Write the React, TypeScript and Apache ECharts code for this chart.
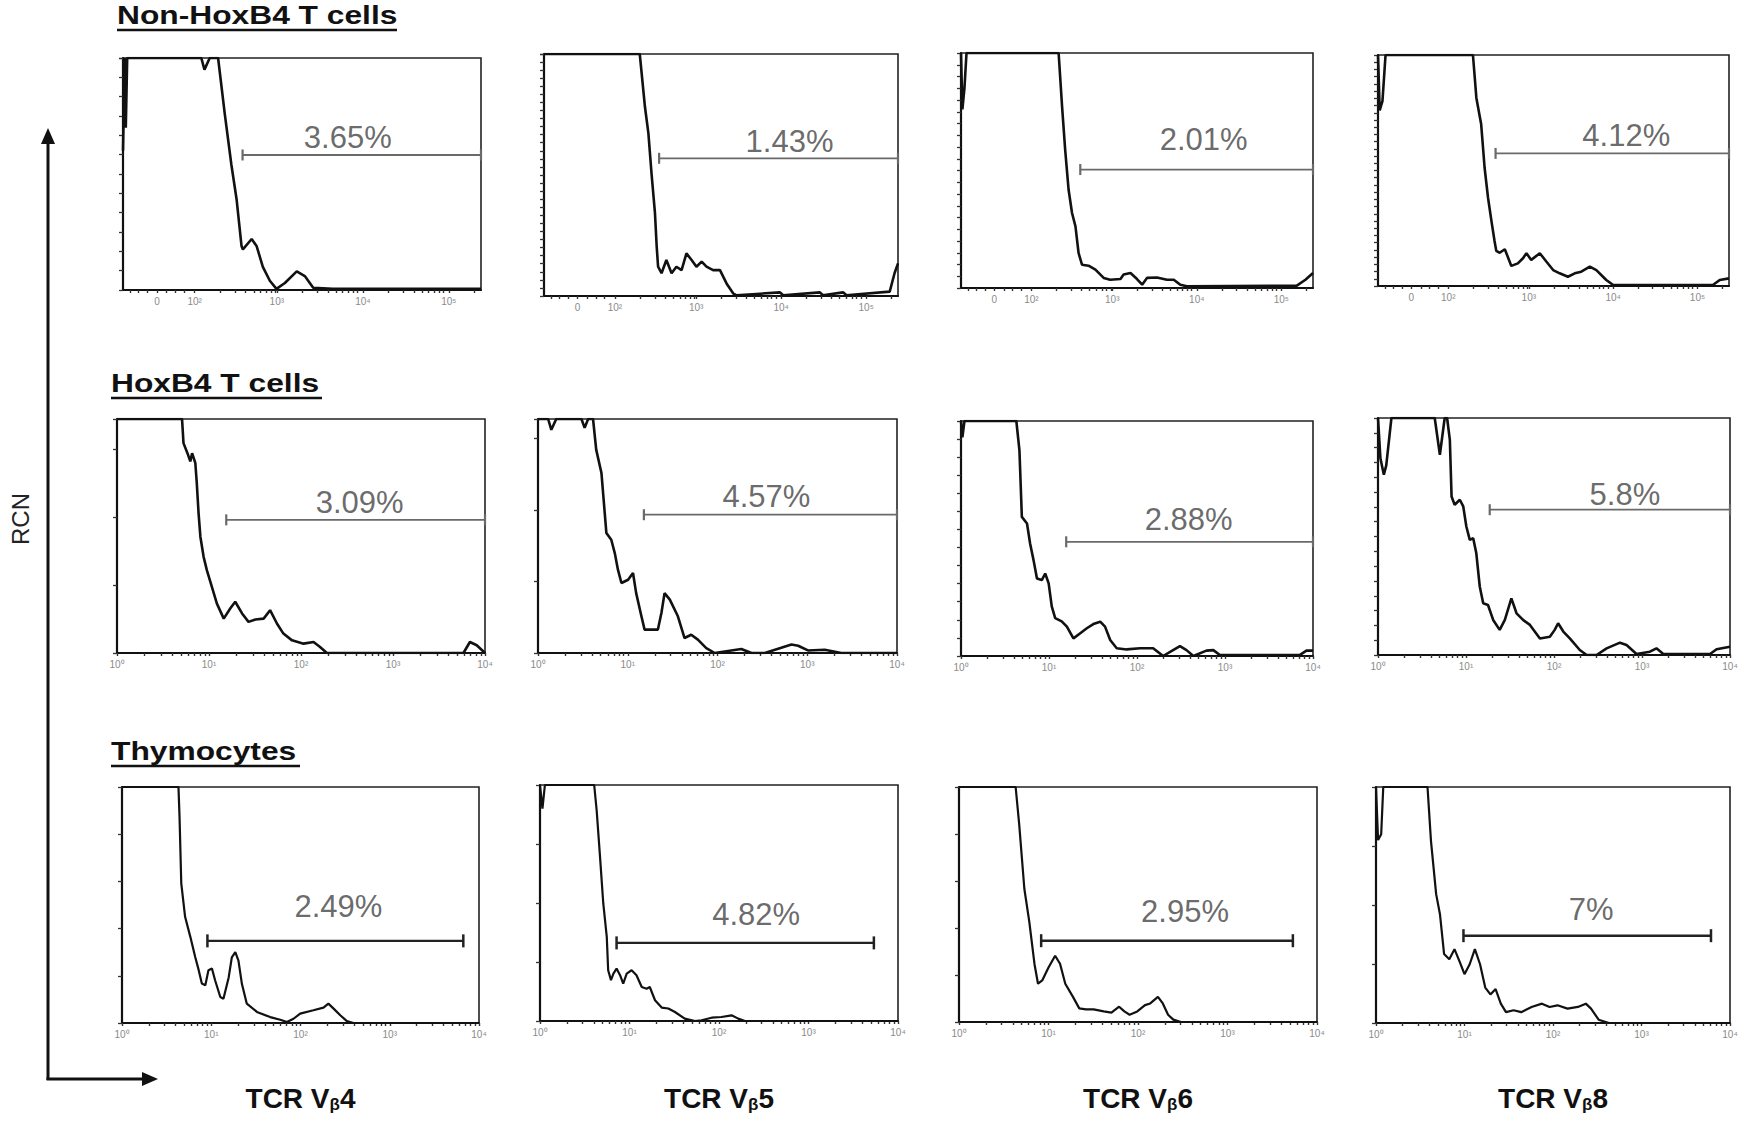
import React, { useEffect, useRef } from "react";
import * as echarts from "echarts";

// ---------------- DATA ----------------
const rowTitles = ["Non-HoxB4 T cells", "HoxB4 T cells", "Thymocytes"];
const vbetaFamilies = ["4", "5", "6", "8"];
const gatePercents = [
  ["3.65%", "1.43%", "2.01%", "4.12%"],
  ["3.09%", "4.57%", "2.88%", "5.8%"],
  ["2.49%", "4.82%", "2.95%", "7%"],
];

// x in display channels (0–1024), y in % of the histogram's full scale
const biexTickChannels = [97, 205, 440, 686, 932];
const biexTickLabels = ["0", "10²", "10³", "10⁴", "10⁵"];
const logTickChannels = [0, 256, 512, 768, 1024];
const logTickLabels = ["10⁰", "10¹", "10²", "10³", "10⁴"];

const nonHoxVb4 = [[0,60],[5,100],[8,70],[12,100],[224,100],[233,95],[248,100],[272,100],[291,76],[310,54],[325,39],[339,19],[343,17.5],[368,22],[382,19],[400,10],[420,4],[439,0.5],[463,3],[497,8],[520,6],[544,1],[600,0.5],[1024,0.5]];
const nonHoxVb5 = [[0,100],[277,100],[292,78.2],[302,67.2],[311,50.7],[321,34.2],[326,20.4],[330,12.1],[340,9.4],[354,14.9],[369,9.4],[383,12.1],[398,10.7],[412,17.6],[427,14.9],[441,12.1],[456,14.2],[470,12.1],[489,10.7],[509,10.7],[528,5.2],[547,1.1],[557,0.3],[682,1.5],[692,0.3],[798,1.5],[807,0.3],[865,1.5],[875,0.3],[1000,1.8],[1014,9.4],[1024,13.5]];
const nonHoxVb6 = [[0,100],[4,76],[10,85],[16,100],[284,100],[294,77.3],[303,58.9],[313,41.8],[323,31.9],[333,26.2],[342,14.9],[352,9.9],[371,9.5],[391,7.8],[415,4.3],[434,3.5],[464,3.8],[473,5.7],[493,6.4],[512,3.8],[527,1.4],[541,4.3],[570,4.5],[599,3.5],[619,3.5],[638,1.4],[657,0.7],[977,1.0],[1002,3.5],[1024,6.4]];
const nonHoxVb8 = [[0,100],[5,76],[13,80],[22,100],[277,100],[287,81.4],[301,70],[311,51.2],[321,38.2],[331,28.1],[340,19.5],[345,15.2],[355,14.4],[370,15.9],[389,8.7],[408,9.8],[423,12],[433,14.2],[447,11.3],[472,14.2],[491,10.6],[511,6.9],[530,5.5],[554,4],[574,5.5],[593,6.2],[618,8.4],[637,6.9],[666,2.6],[686,0.4],[977,0.4],[997,2.6],[1024,3.3]];

const hoxVb4 = [[0,100],[181,100],[185,89.7],[196,85.4],[204,81.9],[209,85.4],[218,81.1],[222,72.6],[227,59.7],[232,49.7],[241,41.1],[250,35.4],[264,28.3],[278,21.1],[297,14.7],[315,19],[329,21.9],[348,16.9],[366,13.3],[385,14.3],[408,14.7],[426,18.3],[445,12.6],[463,8.3],[487,5.4],[519,4],[547,4.7],[565,2.6],[584,0],[964,0],[982,4.7],[1001,3.3],[1024,0]];
const hoxVb5 = [[0,100],[29,100],[38,95.4],[52,100],[124,100],[133,96.2],[143,100],[157,100],[166,86.9],[181,76.9],[195,51.3],[209,48.4],[219,42.7],[228,35.6],[238,29.9],[257,31.3],[271,34.2],[280,25.6],[295,15.7],[304,10],[342,10],[352,17.1],[361,25.6],[376,22.8],[399,15.7],[418,6.4],[437,7.8],[456,5.7],[480,2.1],[504,0],[580,1.7],[609,0],[647,0],[723,3.6],[742,3.1],[770,1.1],[818,1.4],[865,0],[1024,0]];
const hoxVb6 = [[0,100],[4,93],[10,100],[161,100],[170,87.5],[177,59.2],[192,56.4],[201,47.9],[211,40.8],[221,33],[235,32.3],[245,35.1],[255,30.9],[264,21.1],[274,16.1],[293,14.7],[308,12.5],[327,7.5],[346,9.6],[366,11.8],[385,13.6],[405,14.6],[419,12.5],[434,6.8],[453,3.3],[482,2.8],[521,3.3],[559,3.3],[588,0],[617,2.5],[637,4.2],[656,2.5],[676,0],[714,2.3],[734,2.5],[753,0.4],[985,0.4],[1005,2.3],[1024,2.3]];
const hoxVb8 = [[0,100],[7,83],[17,76.1],[24,80],[39,100],[165,100],[180,84.5],[194,100],[201,100],[209,90.8],[214,66.9],[223,63.4],[238,65.5],[248,62.7],[257,54.2],[267,48.6],[277,49.3],[286,42.9],[296,28.9],[306,21.8],[320,21.1],[335,14.8],[354,10.6],[369,14.8],[388,23.9],[403,17.6],[422,14.8],[442,12.7],[471,7],[500,7.7],[514,10.6],[524,13.4],[539,9.9],[558,7],[587,2.1],[607,0],[636,0],[665,2.8],[704,5.2],[723,4.2],[752,0.4],[791,1.4],[810,2.8],[830,0.4],[966,0.4],[985,2.4],[1024,3.5]];

const thymoVb4 = [[0,100],[162,100],[165,87.5],[170,59.2],[181,45],[196,36.5],[210,28],[220,22.4],[229,16.7],[239,16],[248,22.4],[258,23.1],[267,18.1],[282,11],[291,10.3],[306,19.3],[315,27.8],[325,30],[334,26.4],[344,16.5],[358,8.2],[387,4.7],[425,2.5],[454,1.4],[473,0.4],[492,1.8],[511,4],[549,5.4],[578,6.5],[592,8.2],[607,6.1],[626,3.3],[645,0.8],[664,0],[1024,0]];
const thymoVb5 = [[0,100],[7,90],[14,100],[155,100],[162,89.4],[171,71],[181,49.8],[191,35.6],[195,21.5],[203,17.3],[210,20.1],[219,22.2],[229,19.4],[238,15.8],[248,20.1],[262,21.5],[276,19.4],[291,14.4],[305,13.7],[314,14.4],[329,8.8],[348,5.7],[367,5.3],[386,3.8],[414,1],[443,0],[462,0.3],[491,1.4],[519,1.7],[548,2.4],[567,1],[586,0],[1024,0]];
const thymoVb6 = [[0,100],[162,100],[172,84.4],[187,56.6],[201,42.7],[216,24.6],[226,16.3],[238,17.7],[256,23.2],[275,28.2],[289,24.8],[304,16.3],[326,10.7],[344,5.8],[363,5.4],[385,5.4],[414,4.5],[436,4],[458,6.5],[473,4.5],[488,3.1],[510,4.5],[532,7.2],[547,7.9],[569,10.7],[583,7.9],[598,3.1],[613,1],[635,0],[1024,0]];
const thymoVb8 = [[0,100],[6,77.5],[15,80],[21,100],[149,100],[159,77.2],[174,54.6],[185,46.1],[197,29.2],[212,27],[227,31.3],[241,26.3],[256,20.7],[271,24.9],[286,31.3],[301,24.9],[316,15],[331,12.1],[346,14.4],[361,8.2],[376,4.6],[398,5.4],[420,4.6],[450,6.8],[480,8.2],[502,6.8],[525,7.5],[554,6.1],[584,6.8],[607,8.2],[622,6.1],[644,1.4],[674,0],[1024,0]];

// gates: [start channel, end channel, height %]
const nonHoxGates = [[342,1024,58.2],[333,1024,56.9],[347,1024,50.4],[343,1024,57.4]];
const hoxGates = [[304,1024,56.9],[302,1024,59.1],[306,1024,48.6],[325,1024,61.3]];
const thymoGates = [[245,979,34.8],[219,955,33.1],[235,955,34.6],[253,969,37.0]];

const curves = [
  [nonHoxVb4, nonHoxVb5, nonHoxVb6, nonHoxVb8],
  [hoxVb4, hoxVb5, hoxVb6, hoxVb8],
  [thymoVb4, thymoVb5, thymoVb6, thymoVb8],
];
const gates = [nonHoxGates, hoxGates, thymoGates];

// ---------------- LAYOUT ----------------
const FONT = '"Liberation Sans", Arial, Helvetica, sans-serif';
const panelBoxes = [
  [[123, 58, 358, 232], [544, 54, 354, 242], [961, 53, 352, 235], [1378, 55, 351, 231]],
  [[117, 419, 368, 234], [538, 419, 359, 234], [961, 421, 352, 235], [1378, 418, 352, 237]],
  [[122, 787, 357, 236], [540, 785, 358, 236], [959, 787, 358, 235], [1376, 787, 354, 236]],
];
const labelOffsets = [
  [[-14, -17], [11, -17], [7, -30], [14, -18]],
  [[4, -17], [-4, -18], [-1, -22], [15, -15]],
  [[3, -34], [11, -28], [18, -29], [4, -26]],
];
const yIntervals = [
  [100 / 12, 100 / 30, 5, 100 / 32],
  [29, 30.6, 7.7, 6.25],
  [20, 25, 20, 25],
];
const curveWidths = [2.6, 2.6, 2.2];
const titlePos = [
  { x: 117, y: 15, w: 280, line: 30 },
  { x: 111, y: 383, w: 211, line: 398 },
  { x: 111, y: 751, w: 189, line: 766 },
];

function logMinorTicks() {
  const t: number[] = [];
  for (let n = 0; n < 4; n++) for (let k = 1; k <= 9; k++) t.push(256 * (n + Math.log10(k)));
  t.push(1024);
  return t;
}
function biexMinorTicks() {
  const t: number[] = [20, 45, 70, 97, 125, 150, 175];
  const dec = biexTickChannels.slice(1);
  dec.forEach((d) => {
    for (let k = 1; k <= 9; k++) {
      const v = d + 242 * Math.log10(k);
      if (v <= 1024) t.push(v);
    }
  });
  return t;
}

export default function App() {
  const ref = useRef<HTMLDivElement>(null);
  useEffect(() => {
    if (!ref.current) return;
    const chart = echarts.init(ref.current, undefined, { renderer: "svg" });
    const grid: any[] = [];
    const xAxis: any[] = [];
    const yAxis: any[] = [];
    const series: any[] = [];
    const logTicks = logMinorTicks();
    const biexTicks = biexMinorTicks();

    for (let r = 0; r < 3; r++) {
      for (let c = 0; c < 4; c++) {
        const i = r * 4 + c;
        const [left, top, width, height] = panelBoxes[r][c];
        grid.push({ left, top, width, height, show: true, borderColor: "#222", borderWidth: 1.6, backgroundColor: "#fff" });
        const labCh = r === 0 ? biexTickChannels : logTickChannels;
        const labTx = r === 0 ? biexTickLabels : logTickLabels;
        xAxis.push({
          gridIndex: i,
          type: "value",
          min: 0,
          max: 1024,
          axisLine: { show: true, lineStyle: { color: "#111", width: 2 } },
          axisTick: { show: true, customValues: r === 0 ? biexTicks : logTicks, length: 3, lineStyle: { color: "#333", width: 1.4 } },
          axisLabel: {
            show: true,
            customValues: labCh,
            formatter: (v: number) => {
              const k = labCh.findIndex((x) => Math.abs(x - v) < 0.5);
              return k >= 0 ? labTx[k] : "";
            },
            fontSize: 10,
            color: "#8a8a8a",
            margin: 6,
            fontFamily: FONT,
          },
          splitLine: { show: false },
        });
        yAxis.push({
          gridIndex: i,
          type: "value",
          min: 0,
          max: 100,
          interval: yIntervals[r][c],
          axisLine: { show: true, lineStyle: { color: "#111", width: 2.2 } },
          axisTick: { show: true, inside: false, length: 4, lineStyle: { color: "#333", width: 1.3 } },
          axisLabel: { show: false },
          splitLine: { show: false },
        });
        series.push({
          type: "line",
          xAxisIndex: i,
          yAxisIndex: i,
          data: curves[r][c],
          symbol: "none",
          showSymbol: false,
          clip: true,
          lineStyle: { color: "#111", width: curveWidths[r] },
          z: 3,
          silent: true,
        });
        const [g0, g1, gy] = gates[r][c];
        const gColor = r === 2 ? "#222" : "#6a6a6a";
        series.push({
          type: "line",
          xAxisIndex: i,
          yAxisIndex: i,
          data: [[g0, gy], [g1, gy]],
          symbol: "rect",
          symbolSize: r === 2 ? [2.5, 13] : [2.2, 11],
          itemStyle: { color: gColor },
          lineStyle: { color: gColor, width: r === 2 ? 2.4 : 1.8 },
          clip: false,
          z: 4,
          silent: true,
        });
        series.push({
          type: "scatter",
          xAxisIndex: i,
          yAxisIndex: i,
          data: [[(g0 + g1) / 2, gy]],
          symbolSize: 1,
          itemStyle: { color: "rgba(0,0,0,0)" },
          label: {
            show: true,
            position: "inside",
            offset: labelOffsets[r][c],
            formatter: () => gatePercents[r][c],
            fontSize: 31,
            color: "#444",
            fontFamily: FONT,
          },
          clip: false,
          z: 5,
          silent: true,
        });
      }
    }

    const graphic: any[] = [];
    rowTitles.forEach((t, r) => {
      const p = titlePos[r];
      graphic.push({
        type: "text",
        x: p.x,
        y: p.y,
        scaleX: 1.27,
        style: { text: t, x: 0, y: 0, font: `bold 25px ${FONT}`, fill: "#111", align: "left", verticalAlign: "middle" },
      });
      graphic.push({
        type: "line",
        shape: { x1: p.x, y1: p.line, x2: p.x + p.w, y2: p.line },
        style: { stroke: "#111", lineWidth: 2.5 },
      });
    });
    vbetaFamilies.forEach((f, c) => {
      const [left, , width] = panelBoxes[2][c];
      graphic.push({
        type: "text",
        x: left + width / 2,
        y: 1098,
        style: {
          text: `TCR V{b|β}${f}`,
          font: `bold 28px ${FONT}`,
          fill: "#111",
          align: "center",
          verticalAlign: "middle",
          lineHeight: 30,
          rich: { b: { font: `bold 17px ${FONT}`, fill: "#111", verticalAlign: "bottom", lineHeight: 17 } },
        },
      });
    });
    graphic.push({
      type: "text",
      x: 20,
      y: 519,
      rotation: Math.PI / 2,
      style: { text: "RCN", font: `24px ${FONT}`, fill: "#222", align: "center", verticalAlign: "middle" },
    });
    graphic.push({ type: "line", shape: { x1: 48, y1: 1080, x2: 48, y2: 140 }, style: { stroke: "#111", lineWidth: 3 } });
    graphic.push({ type: "polygon", shape: { points: [[48, 128], [41, 144], [55, 144]] }, style: { fill: "#111" } });
    graphic.push({ type: "line", shape: { x1: 46.5, y1: 1079, x2: 145, y2: 1079 }, style: { stroke: "#111", lineWidth: 3 } });
    graphic.push({ type: "polygon", shape: { points: [[158, 1079], [142, 1072], [142, 1086]] }, style: { fill: "#111" } });

    chart.setOption({
      animation: false,
      backgroundColor: "#fff",
      textStyle: { fontFamily: FONT },
      grid,
      xAxis,
      yAxis,
      series,
      graphic,
    });
    return () => chart.dispose();
  }, []);
  return <div ref={ref} style={{ position: "fixed", left: 0, top: 0, width: 1747, height: 1121, background: "#fff" }} />;
}
